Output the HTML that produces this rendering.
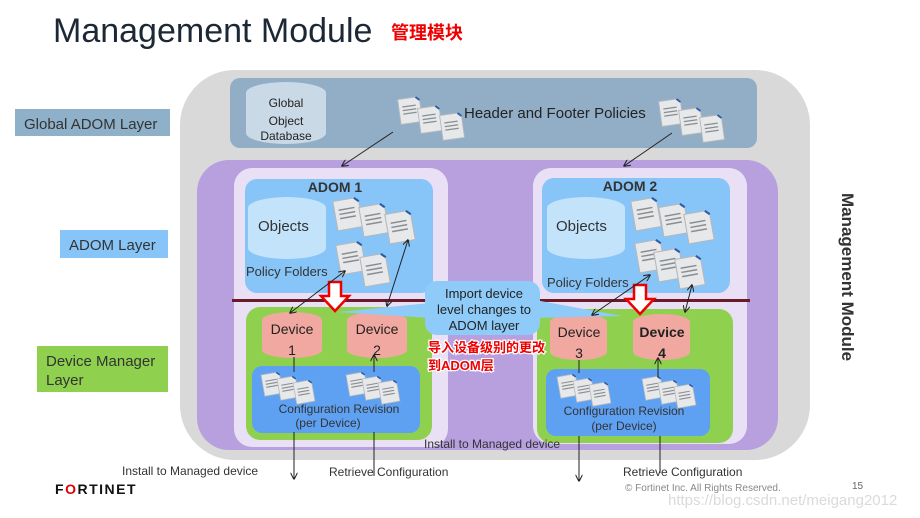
<!DOCTYPE html>
<html><head><meta charset="utf-8"><style>
html,body{margin:0;padding:0;background:#fff;}
body{width:920px;height:518px;overflow:hidden;position:relative;}
svg{position:absolute;left:0;top:0;}
text{font-family:"Liberation Sans","Noto Sans CJK SC",sans-serif;}
</style></head><body>
<svg width="920" height="518" viewBox="0 0 920 518" xmlns="http://www.w3.org/2000/svg">
<defs>
<marker id="ah" viewBox="0 0 10 10" refX="9" refY="5" markerWidth="7" markerHeight="7" orient="auto-start-reverse"><path d="M0,0 L10,5 L0,10" fill="none" stroke="#222" stroke-width="1.5"/></marker>
<symbol id="doc" viewBox="0 0 26 30"><path d="M1,1 H21 L25,5 V29 H1 Z" fill="#e6e8ea" stroke="#b5b8bb" stroke-width="1"/><path d="M21,1 L25,5" stroke="#2a5caa" stroke-width="2"/><path d="M5,10 H20 M5,14 H20 M5,18 H20" stroke="#8a8d90" stroke-width="1.4"/></symbol>
</defs>
<rect width="920" height="518" fill="#fff"/>

<!-- title -->
<text x="53" y="42" font-size="34" fill="#1c2836">Management Module</text>
<text x="391" y="39" font-size="18" font-weight="bold" fill="#e00" stroke="#fff" stroke-width="0.6" style="paint-order:stroke">管理模块</text>

<!-- left labels -->
<rect x="15" y="109" width="155" height="27" fill="#8fb0c9"/>
<text x="24" y="129" font-size="15" fill="#333">Global ADOM Layer</text>
<rect x="60" y="230" width="108" height="28" fill="#87c5f8"/>
<text x="69" y="250" font-size="15" fill="#333">ADOM Layer</text>
<rect x="37" y="346" width="131" height="46" fill="#8fd14f"/>
<text x="46" y="366" font-size="15" fill="#333">Device Manager</text>
<text x="46" y="385" font-size="15" fill="#333">Layer</text>

<!-- outer gray -->
<rect x="180" y="70" width="630" height="390" rx="55" fill="#d9d9d9"/>
<rect x="230" y="78" width="527" height="70" rx="10" fill="#92aec6"/>
<rect x="246" y="82" width="80" height="62" rx="40" ry="11" fill="#c9d9e6"/>
<text x="286" y="107" font-size="12" fill="#222" text-anchor="middle">Global</text>
<text x="286" y="125" font-size="12" fill="#222" text-anchor="middle">Object</text>
<text x="286" y="140" font-size="12" fill="#222" text-anchor="middle">Database</text>
<text x="464" y="118" font-size="15" fill="#222">Header and Footer Policies</text>

<!-- purple -->
<rect x="197" y="160" width="581" height="290" rx="32" fill="#b89fde"/>
<rect x="234" y="168" width="214" height="279" rx="18" fill="#e9e0f5"/>
<rect x="533" y="168" width="214" height="276" rx="18" fill="#e9e0f5"/>
<rect x="245" y="179" width="188" height="114" rx="12" fill="#87c5f8"/>
<rect x="542" y="178" width="188" height="115" rx="12" fill="#87c5f8"/>
<text x="335" y="192" font-size="14" font-weight="bold" fill="#333" text-anchor="middle">ADOM 1</text>
<text x="630" y="191" font-size="14" font-weight="bold" fill="#333" text-anchor="middle">ADOM 2</text>
<rect x="248" y="197" width="78" height="62" rx="39" ry="11" fill="#c3e3fb"/>
<rect x="547" y="197" width="78" height="62" rx="39" ry="11" fill="#c3e3fb"/>
<text x="258" y="231" font-size="15" fill="#333">Objects</text>
<text x="556" y="231" font-size="15" fill="#333">Objects</text>
<text x="246" y="276" font-size="13" fill="#333">Policy Folders</text>
<text x="547" y="287" font-size="13" fill="#333">Policy Folders</text>

<rect x="232" y="299" width="518" height="3" fill="#6b1a2a"/>

<!-- green -->
<rect x="246" y="307" width="186" height="133" rx="14" fill="#8fd14f"/>
<rect x="537" y="309" width="196" height="134" rx="14" fill="#8fd14f"/>
<rect x="262" y="312" width="60" height="46" rx="30" ry="8" fill="#f0a8a0"/>
<rect x="347" y="312" width="60" height="46" rx="30" ry="8" fill="#f0a8a0"/>
<rect x="550" y="314" width="57" height="46" rx="28" ry="8" fill="#f0a8a0"/>
<rect x="633" y="314" width="57" height="46" rx="28" ry="8" fill="#f0a8a0"/>
<text x="292" y="334" font-size="14" fill="#222" text-anchor="middle">Device</text>
<text x="292" y="355" font-size="14" fill="#222" text-anchor="middle">1</text>
<text x="377" y="334" font-size="14" fill="#222" text-anchor="middle">Device</text>
<text x="377" y="355" font-size="14" fill="#222" text-anchor="middle">2</text>
<text x="579" y="337" font-size="14" fill="#222" text-anchor="middle">Device</text>
<text x="579" y="358" font-size="14" fill="#222" text-anchor="middle">3</text>
<text x="662" y="337" font-size="14" font-weight="bold" fill="#222" text-anchor="middle">Device</text>
<text x="662" y="358" font-size="14" font-weight="bold" fill="#222" text-anchor="middle">4</text>
<rect x="252" y="366" width="168" height="67" rx="10" fill="#5ea1f3"/>
<rect x="546" y="369" width="164" height="67" rx="10" fill="#5ea1f3"/>
<text x="339" y="413" font-size="12" fill="#333" text-anchor="middle">Configuration Revision</text>
<text x="328" y="427" font-size="12" fill="#333" text-anchor="middle">(per Device)</text>
<text x="624" y="415" font-size="12" fill="#333" text-anchor="middle">Configuration Revision</text>
<text x="624" y="430" font-size="12" fill="#333" text-anchor="middle">(per Device)</text>

<!-- docs -->
<g>
<use href="#doc" x="398" y="97" width="24" height="27" transform="rotate(-8 410 110)"/>
<use href="#doc" x="418" y="106" width="24" height="27" transform="rotate(-8 430 120)"/>
<use href="#doc" x="440" y="113" width="24" height="27" transform="rotate(-8 452 126)"/>
<use href="#doc" x="659" y="99" width="24" height="27" transform="rotate(-8 671 112)"/>
<use href="#doc" x="679" y="108" width="24" height="27" transform="rotate(-8 691 121)"/>
<use href="#doc" x="700" y="115" width="24" height="27" transform="rotate(-8 712 128)"/>
<use href="#doc" x="334" y="198" width="28" height="32" transform="rotate(-10 348 214)"/>
<use href="#doc" x="360" y="204" width="28" height="32" transform="rotate(-10 374 220)"/>
<use href="#doc" x="386" y="211" width="28" height="32" transform="rotate(-10 400 227)"/>
<use href="#doc" x="337" y="242" width="28" height="32" transform="rotate(-10 351 258)"/>
<use href="#doc" x="361" y="254" width="28" height="32" transform="rotate(-10 375 270)"/>
<use href="#doc" x="632" y="198" width="28" height="32" transform="rotate(-10 646 214)"/>
<use href="#doc" x="660" y="204" width="28" height="32" transform="rotate(-10 674 220)"/>
<use href="#doc" x="685" y="211" width="28" height="32" transform="rotate(-10 699 227)"/>
<use href="#doc" x="636" y="240" width="28" height="32" transform="rotate(-10 650 256)"/>
<use href="#doc" x="655" y="249" width="28" height="32" transform="rotate(-10 669 265)"/>
<use href="#doc" x="676" y="256" width="28" height="32" transform="rotate(-10 690 272)"/>
<use href="#doc" x="262" y="371" width="20" height="26" transform="rotate(-10 272 384)"/>
<use href="#doc" x="278" y="375" width="20" height="26" transform="rotate(-10 288 388)"/>
<use href="#doc" x="294" y="379" width="20" height="26" transform="rotate(-10 304 392)"/>
<use href="#doc" x="347" y="371" width="20" height="26" transform="rotate(-10 357 384)"/>
<use href="#doc" x="363" y="375" width="20" height="26" transform="rotate(-10 373 388)"/>
<use href="#doc" x="379" y="379" width="20" height="26" transform="rotate(-10 389 392)"/>
<use href="#doc" x="558" y="373" width="20" height="26" transform="rotate(-10 568 386)"/>
<use href="#doc" x="574" y="377" width="20" height="26" transform="rotate(-10 584 390)"/>
<use href="#doc" x="590" y="381" width="20" height="26" transform="rotate(-10 600 394)"/>
<use href="#doc" x="643" y="375" width="20" height="26" transform="rotate(-10 653 388)"/>
<use href="#doc" x="659" y="379" width="20" height="26" transform="rotate(-10 669 392)"/>
<use href="#doc" x="675" y="383" width="20" height="26" transform="rotate(-10 685 396)"/>
</g>

<!-- callout -->
<path d="M338,312 L430,303 L430,318 Z" fill="#8ecbf8"/>
<path d="M622,316 L535,300 L535,318 Z" fill="#8ecbf8"/>
<rect x="425" y="281" width="115" height="54" rx="12" fill="#8ecbf8"/>
<text x="484" y="298" font-size="13" fill="#222" text-anchor="middle">Import device</text>
<text x="484" y="314" font-size="13" fill="#222" text-anchor="middle">level changes to</text>
<text x="484" y="330" font-size="13" fill="#222" text-anchor="middle">ADOM layer</text>
<g font-size="13" font-weight="bold" fill="#e00" stroke="#fff" stroke-width="2.5" style="paint-order:stroke">
<text x="428" y="352">导入设备级别的更改</text>
<text x="428" y="370">到ADOM层</text>
</g>

<path d="M329,282 H341 V296 H349 L335,311 L321,296 H329 Z" fill="#fff" stroke="#e00" stroke-width="2.5"/>
<path d="M634,285 H646 V299 H654 L640,314 L626,299 H634 Z" fill="#fff" stroke="#e00" stroke-width="2.5"/>

<g stroke="#222" stroke-width="1" fill="none">
<line x1="393" y1="132" x2="342" y2="166" marker-end="url(#ah)"/>
<line x1="672" y1="133" x2="624" y2="166" marker-end="url(#ah)"/>
<line x1="290" y1="313" x2="345" y2="271" marker-start="url(#ah)" marker-end="url(#ah)"/>
<line x1="387" y1="306" x2="408" y2="240" marker-start="url(#ah)" marker-end="url(#ah)"/>
<line x1="592" y1="315" x2="650" y2="275" marker-start="url(#ah)" marker-end="url(#ah)"/>
<line x1="685" y1="312" x2="692" y2="285" marker-start="url(#ah)" marker-end="url(#ah)"/>
<line x1="294" y1="357" x2="294" y2="372"/>
<line x1="374" y1="372" x2="374" y2="355" marker-end="url(#ah)"/>
<line x1="579" y1="360" x2="579" y2="373"/>
<line x1="658" y1="377" x2="658" y2="358" marker-end="url(#ah)"/>
<line x1="294" y1="432" x2="294" y2="479" marker-end="url(#ah)"/>
<line x1="374" y1="432" x2="374" y2="476"/>
<line x1="579" y1="436" x2="579" y2="481" marker-end="url(#ah)"/>
<line x1="660" y1="436" x2="660" y2="473"/>
</g>

<text x="424" y="448" font-size="12" fill="#333">Install to Managed device</text>
<text x="122" y="475" font-size="12" fill="#333">Install to Managed device</text>
<text x="329" y="476" font-size="12" fill="#333">Retrieve Configuration</text>
<text x="623" y="476" font-size="12" fill="#333">Retrieve Configuration</text>

<text transform="translate(842,277) rotate(90)" font-size="17" font-weight="bold" fill="#333" text-anchor="middle">Management Module</text>

<text x="55" y="494" font-size="14" font-weight="bold" fill="#111" letter-spacing="1.5">F<tspan fill="#d00">O</tspan>RTINET</text>
<text x="625" y="491" font-size="10" fill="#888">© Fortinet Inc. All Rights Reserved.</text>
<text x="852" y="489" font-size="10" fill="#666">15</text>
<text x="668" y="505" font-size="15" fill="#dadada">https://blog.csdn.net/meigang2012</text>
</svg>
</body></html>
